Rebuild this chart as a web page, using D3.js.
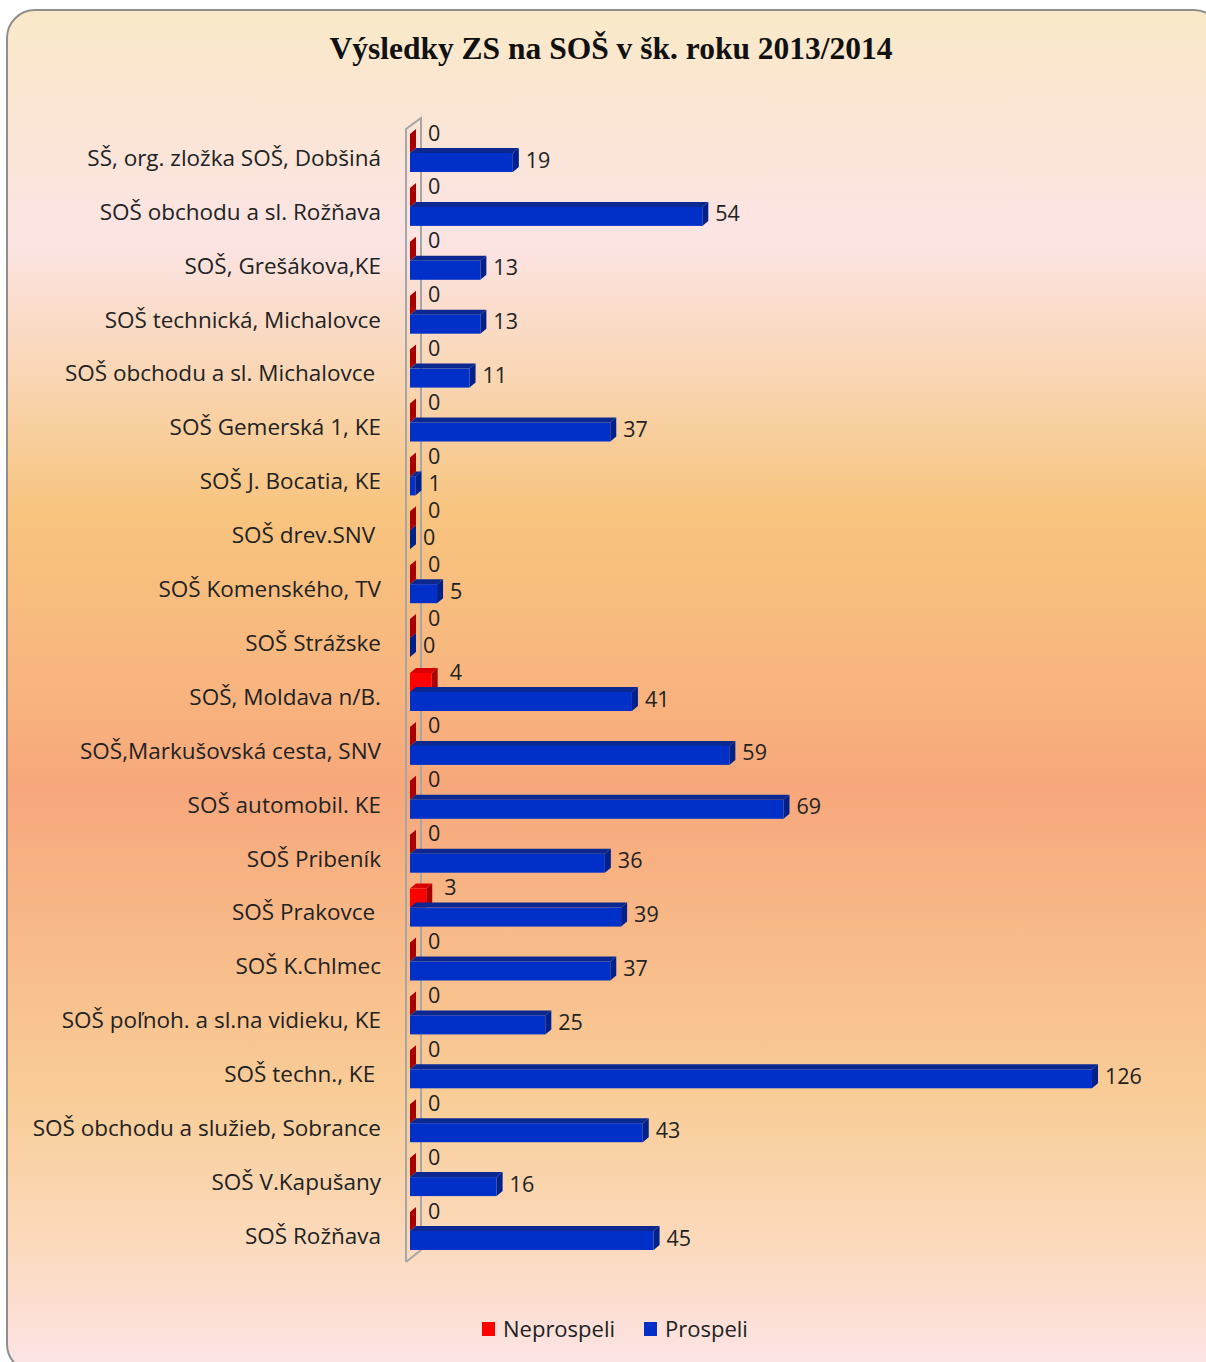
<!DOCTYPE html>
<html><head><meta charset="utf-8">
<script src="https://cdn.jsdelivr.net/npm/d3@7"></script>
<style>html,body{margin:0;padding:0;background:#fff;}svg{display:block;}</style>
</head><body>
<script>
const categories = [
  "SŠ, org. zložka SOŠ, Dobšiná",
  "SOŠ obchodu a sl. Rožňava",
  "SOŠ, Grešákova,KE",
  "SOŠ technická, Michalovce",
  "SOŠ obchodu a sl. Michalovce ",
  "SOŠ Gemerská 1, KE",
  "SOŠ J. Bocatia, KE",
  "SOŠ drev.SNV ",
  "SOŠ Komenského, TV",
  "SOŠ Strážske",
  "SOŠ, Moldava n/B.",
  "SOŠ,Markušovská cesta, SNV",
  "SOŠ automobil. KE",
  "SOŠ Pribeník",
  "SOŠ Prakovce ",
  "SOŠ K.Chlmec",
  "SOŠ poľnoh. a sl.na vidieku, KE",
  "SOŠ techn., KE ",
  "SOŠ obchodu a služieb, Sobrance",
  "SOŠ V.Kapušany",
  "SOŠ Rožňava"
];
const neprospeli = [0,0,0,0,0,0,0,0,0,0,4,0,0,0,3,0,0,0,0,0,0];
const prospeli   = [19,54,13,13,11,37,1,0,5,0,41,59,69,36,39,37,25,126,43,16,45];
const seriesNames = ["Neprospeli","Prospeli"];
const title = "Výsledky ZS na SOŠ v šk. roku 2013/2014";

const W = 1206, H = 1362;
const svg = d3.select("body").append("svg").attr("width", W).attr("height", H);
const defs = svg.append("defs");
const grad = defs.append("linearGradient").attr("id","bg").attr("x1",0).attr("y1",0).attr("x2",0).attr("y2",1);
[[0,"#FAE9C8"],[0.09,"#FBE5D6"],[0.17,"#FCE4E4"],[0.28,"#F9D4AE"],[0.37,"#F8C47E"],[0.5,"#F8B47E"],[0.57,"#F7A77B"],[0.68,"#F8BA88"],[0.8,"#F9CD98"],[0.9,"#FBD9BA"],[1,"#FDE4E8"]]
  .forEach(([o,c]) => grad.append("stop").attr("offset",o).attr("stop-color",c));

svg.append("rect").attr("x",7).attr("y",10).attr("width",1215).attr("height",1362)
  .attr("rx",28).attr("ry",28).attr("fill","url(#bg)").attr("stroke","#8f8f8f").attr("stroke-width",2);

svg.append("text").attr("x",611).attr("y",59).attr("text-anchor","middle")
  .attr("font-family","'Liberation Serif','Times New Roman',serif").attr("font-weight","bold")
  .attr("font-size",31.5).attr("fill","#111").text(title);

const x = d3.scaleLinear().domain([0,126]).range([410,1092]);
const y = d3.scaleBand().domain(categories).range([131.05,1262.95]).padding(0);
const dx = 6, dy = -5, bh = 19;

// wall
const wall = svg.append("g").attr("stroke","#a6a6a6").attr("stroke-width",2).attr("fill","none");
wall.append("path").attr("d",`M406,1262 L406,129 L421,118 L421,1250 L406,1262`);

const font = "'Open Sans', sans-serif";

function bar(g, x0, x1, y0, cols){
  const y1 = y0 + bh;
  g.append("polygon").attr("points",[[x0,y0],[x0+dx,y0+dy],[x1+dx,y0+dy],[x1,y0]].join(" ")).attr("fill",cols[1]);
  g.append("polygon").attr("points",[[x1,y0],[x1+dx,y0+dy],[x1+dx,y1+dy],[x1,y1]].join(" ")).attr("fill",cols[2]);
  if (x1 > x0) g.append("rect").attr("x",x0).attr("y",y0).attr("width",x1-x0).attr("height",bh).attr("fill",cols[0]);
}
const redCols = ["#FF0000","#D80000","#A80000"];
const blueCols = ["#0030C8","#0A2890","#00208A"];

const bars = svg.append("g");
categories.forEach((c,i) => {
  const cy = y(c) + y.bandwidth()/2;
  const g = bars.append("g");
  bar(g, x(0), x(neprospeli[i]), cy-24, redCols);
  bar(g, x(0), x(prospeli[i]), cy-5, blueCols);
  g.append("text").attr("x", x(neprospeli[i]) + 18).attr("y", cy-25).attr("dy","0.35em")
    .attr("font-family",font).attr("font-size",21.5).attr("fill","#222").text(neprospeli[i]);
  g.append("text").attr("x", x(prospeli[i]) + 13).attr("y", cy+2).attr("dy","0.35em")
    .attr("font-family",font).attr("font-size",21.5).attr("fill","#222").text(prospeli[i]);
});

// category axis labels
svg.append("g").selectAll("text").data(categories).join("text")
  .attr("x",381).attr("y", d => y(d) + y.bandwidth()/2).attr("dy","0.35em")
  .attr("text-anchor","end").attr("font-family",font).attr("font-size",22.5)
  .attr("fill","#222").style("white-space","pre").text(d => d);

// legend
const lg = svg.append("g");
const legendCols = ["#FF0000","#0030C8"];
const lx = [482, 644];
seriesNames.forEach((n,i) => {
  lg.append("rect").attr("x",lx[i]).attr("y",1322).attr("width",13).attr("height",14).attr("fill",legendCols[i]);
  lg.append("text").attr("x",lx[i]+21).attr("y",1329).attr("dy","0.35em").attr("font-family",font)
    .attr("font-size",22).attr("fill","#222").text(n);
});
</script>
</body></html>
